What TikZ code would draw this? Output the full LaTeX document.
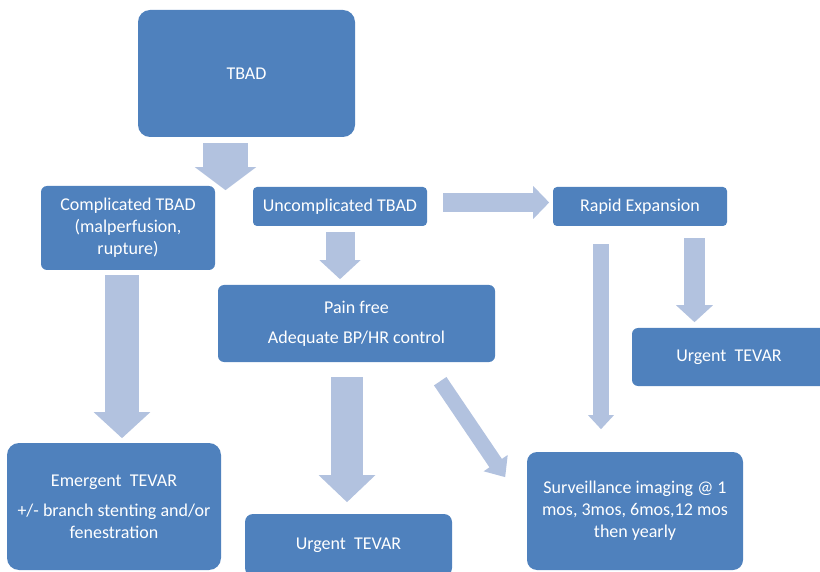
\documentclass[tikz,border=0pt]{standalone}
\usepackage{fontspec}
\setmainfont{Carlito}
\usetikzlibrary{positioning}
\usetikzlibrary{calc}
\usetikzlibrary{arrows.meta}

\definecolor{boxblue}{RGB}{79,129,189}
\definecolor{arrowblue}{RGB}{178,194,223}

\tikzset{
  box/.style={fill=boxblue, text=white, align=center, inner sep=0pt,
    rounded corners=#1, font=\fontsize{18}{22}\selectfont},
  box/.default=5pt,
  blockarrow/.style n args={3}{draw=arrowblue, line width=#1,
    -{Triangle[width=#2, length=#3, fill=arrowblue]}},
}

\begin{document}
\begin{tikzpicture}[x=1pt,y=1pt]
  \useasboundingbox (0,0) rectangle (820,-572);

  \node[box=12pt, minimum width=217pt, minimum height=127pt] (tbad) at (246.5,-73.5) {TBAD};
  \node[box=6pt, minimum width=174pt, minimum height=84pt] (comp) at (128,-228) {Complicated TBAD\\(malperfusion,\\rupture)};
  \node[box=4pt, minimum width=174pt, minimum height=39pt] (uncomp) at (340,-206.5) {Uncomplicated TBAD};
  \node[box=4pt, minimum width=174pt, minimum height=39pt] (rapid) at (640,-206.5) {Rapid Expansion};
  \node[box=6pt, minimum width=277pt, minimum height=77pt] (pain) at (356.5,-323.5) {Pain free\\[8pt]Adequate BP/HR control};
  \node[box=6pt, minimum width=194pt, minimum height=58pt] (urgright) at (729,-357) {Urgent\ \ TEVAR};
  \node[box=12pt, minimum width=214pt, minimum height=127pt] (emerg) at (114,-506.5) {Emergent\ \ TEVAR\\[8pt]+/- branch stenting and/or\\fenestration};
  \node[box=8pt, minimum width=207pt, minimum height=62pt] (urgbottom) at (348.5,-545) {Urgent\ \ TEVAR};
  \node[box=10pt, minimum width=216pt, minimum height=118pt] (surv) at (635,-511) {Surveillance imaging @ 1\\mos, 3mos, 6mos,12 mos\\then yearly};

  % block arrows
  \draw[blockarrow={45pt}{60pt}{23pt}] ([xshift=-21pt,yshift=-6pt]tbad.south) -- ++(0,-47);
  \draw[blockarrow={34pt}{55pt}{26pt}] ([xshift=-6pt,yshift=-5pt]comp.south) -- ++(0,-163);
  \draw[blockarrow={29pt}{40pt}{19pt}] ([yshift=-6pt]uncomp.south) -- ++(0,-47);
  \draw[blockarrow={19pt}{32pt}{16pt}] ([xshift=16pt,yshift=4pt]uncomp.east) -- ++(106,0);
  \draw[blockarrow={21pt}{36pt}{17pt}] ([xshift=54.5pt,yshift=-12pt]rapid.south) -- ++(0,-84);
  \draw[blockarrow={16pt}{25pt}{14pt}] ([xshift=-39pt,yshift=-18pt]rapid.south) -- ++(0,-185);
  \draw[blockarrow={32pt}{55pt}{27pt}] ([xshift=-9.5pt,yshift=-15pt]pain.south) -- ++(0,-125);
  \draw[blockarrow={15pt}{28pt}{17pt}] ([xshift=-55pt,yshift=-19pt]pain.south east) -- ++(65,-96);
\end{tikzpicture}
\end{document}
